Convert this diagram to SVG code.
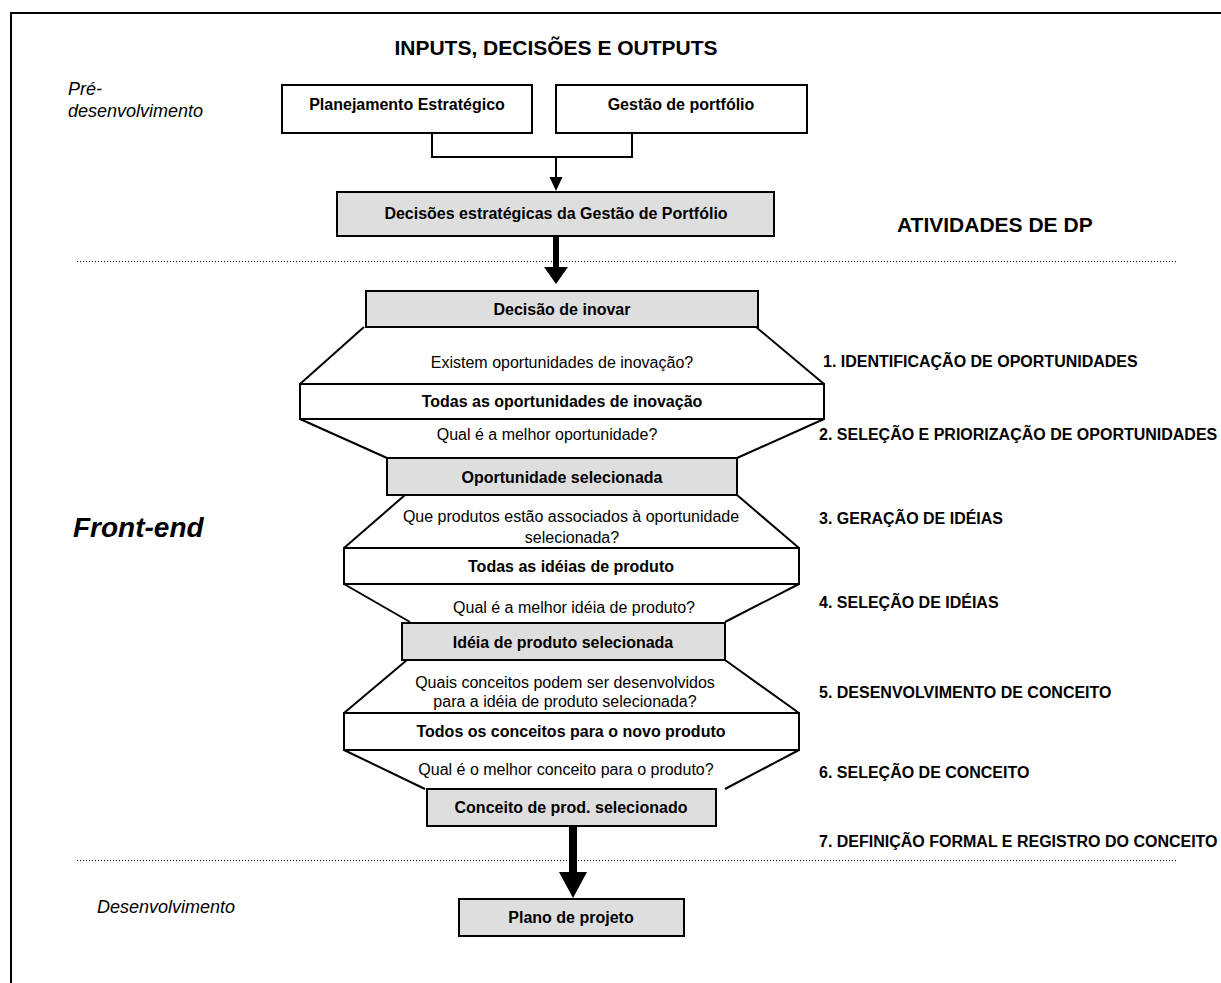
<svg xmlns="http://www.w3.org/2000/svg" width="1221" height="983" viewBox="0 0 1221 983">
  <style>
    text { font-family: "Liberation Sans", Arial, sans-serif; fill: #000; }
    .head { font-size: 21px; font-weight: bold; }
    .phase { font-size: 18px; font-style: italic; }
    .big { font-size: 28px; font-weight: bold; font-style: italic; }
    .lbl { font-size: 16px; font-weight: bold; text-anchor: middle; }
    .q { font-size: 16px; text-anchor: middle; }
    .act { font-size: 16px; font-weight: bold; }
    .box { fill: #fff; stroke: #000; stroke-width: 2; }
    .gbox { fill: #dedede; stroke: #000; stroke-width: 2; }
    .ln { fill: none; stroke: #000; stroke-width: 2; }
    .dot { fill: none; stroke: #000; stroke-width: 1; stroke-dasharray: 1 2; }
    .solid { fill: #000; stroke: none; }
  </style>

  <!-- page frame -->
  <path class="ln" d="M11,983 V13 H1221"/>

  <!-- headings and phase names -->
  <text class="head" x="556" y="55" text-anchor="middle">INPUTS, DECISÕES E OUTPUTS</text>
  <text class="head" x="897" y="232">ATIVIDADES DE DP</text>
  <text class="phase" x="68" y="95">Pré-</text>
  <text class="phase" x="68" y="117">desenvolvimento</text>
  <text class="big" x="73" y="537">Front-end</text>
  <text class="phase" x="97" y="913">Desenvolvimento</text>

  <!-- phase separators -->
  <line class="dot" x1="77" y1="261.5" x2="1177" y2="261.5"/>
  <line class="dot" x1="77" y1="860.5" x2="1177" y2="860.5"/>

  <!-- activity labels -->
  <g id="activities">
    <text class="act" x="823" y="367">1. IDENTIFICAÇÃO DE OPORTUNIDADES</text>
    <text class="act" x="819" y="440">2. SELEÇÃO E PRIORIZAÇÃO DE OPORTUNIDADES</text>
    <text class="act" x="819" y="524">3. GERAÇÃO DE IDÉIAS</text>
    <text class="act" x="819" y="608">4. SELEÇÃO DE IDÉIAS</text>
    <text class="act" x="819" y="698">5. DESENVOLVIMENTO DE CONCEITO</text>
    <text class="act" x="819" y="778">6. SELEÇÃO DE CONCEITO</text>
    <text class="act" x="819" y="847">7. DEFINIÇÃO FORMAL E REGISTRO DO CONCEITO</text>
  </g>

  <!-- connectors -->
  <g id="connectors">
    <path class="ln" d="M432,133 V157 H632 V133"/>
    <line class="ln" x1="556" y1="157" x2="556" y2="179"/>
    <polygon class="solid" points="549.5,177 562.5,177 556,191"/>
    <polygon class="solid" points="553,236 559,236 559,267 568,267 556,284 544,267 553,267"/>
    <polygon class="solid" points="569,826 577,826 577,872 587,872 573,898 559,872 569,872"/>

    <!-- funnel walls -->
    <line class="ln" x1="364" y1="327" x2="300" y2="384"/>
    <line class="ln" x1="756" y1="327" x2="824" y2="384"/>
    <line class="ln" x1="300" y1="419" x2="387" y2="458"/>
    <line class="ln" x1="824" y1="419" x2="737" y2="458"/>
    <line class="ln" x1="405" y1="495" x2="344" y2="548"/>
    <line class="ln" x1="737" y1="495" x2="799" y2="548"/>
    <line class="ln" x1="344" y1="584" x2="410" y2="622"/>
    <line class="ln" x1="799" y1="584" x2="725" y2="622"/>
    <line class="ln" x1="407" y1="660" x2="344" y2="713"/>
    <line class="ln" x1="725" y1="660" x2="799" y2="713"/>
    <line class="ln" x1="344" y1="750" x2="425" y2="789"/>
    <line class="ln" x1="799" y1="750" x2="725" y2="789"/>
  </g>

  <!-- funnel questions -->
  <g id="questions">
    <text class="q" x="562" y="368">Existem oportunidades de inovação?</text>
    <text class="q" x="547" y="440">Qual é a melhor oportunidade?</text>
    <text class="q" x="571" y="522">Que produtos estão associados à oportunidade</text>
    <text class="q" x="572" y="543">selecionada?</text>
    <text class="q" x="574" y="613">Qual é a melhor idéia de produto?</text>
    <text class="q" x="565" y="688">Quais conceitos podem ser desenvolvidos</text>
    <text class="q" x="565" y="707">para a idéia de produto selecionada?</text>
    <text class="q" x="566" y="775">Qual é o melhor conceito para o produto?</text>
  </g>

  <!-- nodes -->
  <g id="planejamento">
    <rect class="box" x="282" y="85" width="250" height="48"/>
    <text class="lbl" x="407" y="110">Planejamento Estratégico</text>
  </g>
  <g id="gestao-portfolio">
    <rect class="box" x="556" y="85" width="251" height="48"/>
    <text class="lbl" x="681" y="110">Gestão de portfólio</text>
  </g>
  <g id="decisoes-estrategicas">
    <rect class="gbox" x="337" y="192" width="437" height="44"/>
    <text class="lbl" x="556" y="219">Decisões estratégicas da Gestão de Portfólio</text>
  </g>
  <g id="decisao-inovar">
    <rect class="gbox" x="366" y="291" width="392" height="36"/>
    <text class="lbl" x="562" y="315">Decisão de inovar</text>
  </g>
  <g id="todas-oportunidades">
    <rect class="box" x="300" y="384" width="524" height="35"/>
    <text class="lbl" x="562" y="407">Todas as oportunidades de inovação</text>
  </g>
  <g id="oportunidade-selecionada">
    <rect class="gbox" x="387" y="458" width="350" height="37"/>
    <text class="lbl" x="562" y="483">Oportunidade selecionada</text>
  </g>
  <g id="todas-ideias">
    <rect class="box" x="344" y="548" width="455" height="36"/>
    <text class="lbl" x="571" y="572">Todas as idéias de produto</text>
  </g>
  <g id="ideia-selecionada">
    <rect class="gbox" x="402" y="623" width="323" height="37"/>
    <text class="lbl" x="563" y="648">Idéia de produto selecionada</text>
  </g>
  <g id="todos-conceitos">
    <rect class="box" x="344" y="713" width="455" height="37"/>
    <text class="lbl" x="571" y="737">Todos os conceitos para o novo produto</text>
  </g>
  <g id="conceito-selecionado">
    <rect class="gbox" x="427" y="789" width="289" height="37"/>
    <text class="lbl" x="571" y="813">Conceito de prod. selecionado</text>
  </g>
  <g id="plano-projeto">
    <rect class="gbox" x="459" y="899" width="225" height="37"/>
    <text class="lbl" x="571" y="923">Plano de projeto</text>
  </g>
</svg>
